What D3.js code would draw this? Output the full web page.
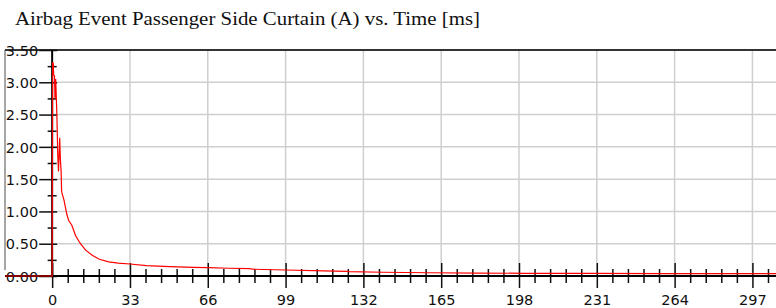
<!DOCTYPE html>
<html>
<head>
<meta charset="utf-8">
<script src="https://cdn.jsdelivr.net/npm/d3@7"></script>
<style>
  body { margin: 0; background: #fff; }
  svg { display: block; }
</style>
</head>
<body>
<div id="chart"></div>
<script>
var chartTitle = "Airbag Event Passenger Side Curtain (A) vs. Time [ms]";

// time in ms, current in A
var timeMs = [-20, 0, 0.2, 0.5, 0.6, 1.0, 1.2, 1.5, 2.0, 2.4, 2.7, 3.2, 3.5, 3.8, 4.0, 4.2, 5, 6.2, 7, 8.3, 10, 12, 14.2, 17, 20, 24, 28, 33, 40, 50, 60, 66, 75, 84, 85, 99, 115, 125, 126, 140, 160, 180, 200, 230, 260, 290, 307];
var currentA = [0, 0, 3.31, 3.28, 3.12, 3.10, 2.75, 3.05, 2.5, 1.85, 1.62, 2.14, 1.8, 1.62, 1.32, 1.28, 1.18, 0.96, 0.86, 0.79, 0.62, 0.50, 0.40, 0.32, 0.26, 0.22, 0.20, 0.186, 0.16, 0.145, 0.135, 0.13, 0.12, 0.115, 0.105, 0.093, 0.08, 0.072, 0.068, 0.058, 0.05, 0.045, 0.042, 0.04, 0.038, 0.037, 0.037];

var xMajorTicks = [0, 33, 66, 99, 132, 165, 198, 231, 264, 297];
var xMinorTicks = [6.6, 13.2, 19.8, 26.4, 39.6, 46.2, 52.8, 59.4, 72.6, 79.2, 85.8, 92.4, 105.6, 112.2, 118.8, 125.4, 138.6, 145.2, 151.8, 158.4, 171.6, 178.2, 184.8, 191.4, 204.6, 211.2, 217.8, 224.4, 237.6, 244.2, 250.8, 257.4, 270.6, 277.2, 283.8, 290.4, 303.6];
var yMajorTicks = [0, 0.5, 1.0, 1.5, 2.0, 2.5, 3.0, 3.5];
var yMinorTicks = [0.25, 0.75, 1.25, 1.75, 2.25, 2.75, 3.25];

var width = 776, height = 308;
var plotLeft = 5, plotRight = 776, plotTop = 50, plotBottom = 276;

var svg = d3.select("#chart").append("svg")
    .attr("width", width)
    .attr("height", height);

var x = d3.scaleLinear().domain([-20, 307]).range([plotLeft, plotRight]);
var y = d3.scaleLinear().domain([0, 3.5]).range([plotBottom, plotTop]);

//Title
svg.append("text")
    .attr("x", 15)
    .attr("y", 25)
    .attr("font-family", "Liberation Serif, Times New Roman, serif")
    .attr("font-size", "18px")
    .attr("textLength", 465)
    .attr("lengthAdjust", "spacingAndGlyphs")
    .attr("fill", "#111")
    .text(chartTitle);

//Grid
svg.selectAll(".hgrid")
    .data(yMajorTicks.filter(function(d) { return d > 0 && d < 3.5; }))
    .enter().append("line")
    .attr("class", "hgrid")
    .attr("x1", x(0)).attr("x2", plotRight)
    .attr("y1", function(d) { return y(d); })
    .attr("y2", function(d) { return y(d); })
    .attr("stroke", "#cfcfcf").attr("stroke-width", 1.5);

svg.selectAll(".vgrid")
    .data(xMajorTicks.filter(function(d) { return d > 0; }))
    .enter().append("line")
    .attr("class", "vgrid")
    .attr("x1", function(d) { return x(d); })
    .attr("x2", function(d) { return x(d); })
    .attr("y1", plotTop).attr("y2", plotBottom)
    .attr("stroke", "#cfcfcf").attr("stroke-width", 1.5);

//Frame
svg.append("line")
    .attr("x1", plotLeft).attr("x2", plotLeft).attr("y1", plotTop).attr("y2", plotBottom - 6)
    .attr("stroke", "#888").attr("stroke-width", 1.5);
svg.append("line")
    .attr("x1", plotLeft).attr("x2", plotRight).attr("y1", plotTop).attr("y2", plotTop)
    .attr("stroke", "#333").attr("stroke-width", 2);

//Axes
var xMajor = svg.append("g")
    .attr("transform", "translate(0," + (plotBottom - 13) + ")")
    .call(d3.axisBottom(x).tickValues(xMajorTicks).tickSize(25).tickPadding(7)
        .tickFormat(function(d) { return d; }));
var xMinor = svg.append("g")
    .attr("transform", "translate(0," + (plotBottom - 7) + ")")
    .call(d3.axisBottom(x).tickValues(xMinorTicks).tickSize(14).tickFormat(""));
var yMajor = svg.append("g")
    .attr("transform", "translate(" + (x(0) + 5) + ",0)")
    .call(d3.axisLeft(y).tickValues(yMajorTicks).tickSize(18).tickPadding(1)
        .tickFormat(d3.format(".2f")));
var yMinor = svg.append("g")
    .attr("transform", "translate(" + (x(0) + 4.5) + ",0)")
    .call(d3.axisLeft(y).tickValues(yMinorTicks).tickSize(9).tickFormat(""));

[xMajor, xMinor, yMajor, yMinor].forEach(function(g) {
    g.select(".domain").remove();
    g.selectAll(".tick line").attr("stroke", "#111").attr("stroke-width", 1.5);
    g.selectAll(".tick text")
        .attr("font-family", "DejaVu Sans, Verdana, sans-serif")
        .attr("font-size", "14.5px")
        .attr("fill", "#111");
});
yMajor.selectAll(".tick text").attr("dy", "0.36em");

svg.append("line")
    .attr("x1", plotLeft).attr("x2", plotRight).attr("y1", plotBottom).attr("y2", plotBottom)
    .attr("stroke", "#000").attr("stroke-width", 2);
svg.append("line")
    .attr("x1", x(0)).attr("x2", x(0)).attr("y1", plotTop).attr("y2", plotBottom)
    .attr("stroke", "#000").attr("stroke-width", 2);

//Trace
svg.append("clipPath").attr("id", "plotClip")
    .append("rect")
    .attr("x", plotLeft).attr("y", plotTop - 1)
    .attr("width", plotRight - plotLeft).attr("height", plotBottom - plotTop + 2);

var line = d3.line()
    .x(function(d, i) { return x(timeMs[i]); })
    .y(function(d) { return y(d); });

svg.append("path")
    .datum(currentA)
    .attr("clip-path", "url(#plotClip)")
    .attr("d", line)
    .attr("fill", "none")
    .attr("stroke", "#ff0000")
    .attr("stroke-width", 1.2);
</script>
</body>
</html>
